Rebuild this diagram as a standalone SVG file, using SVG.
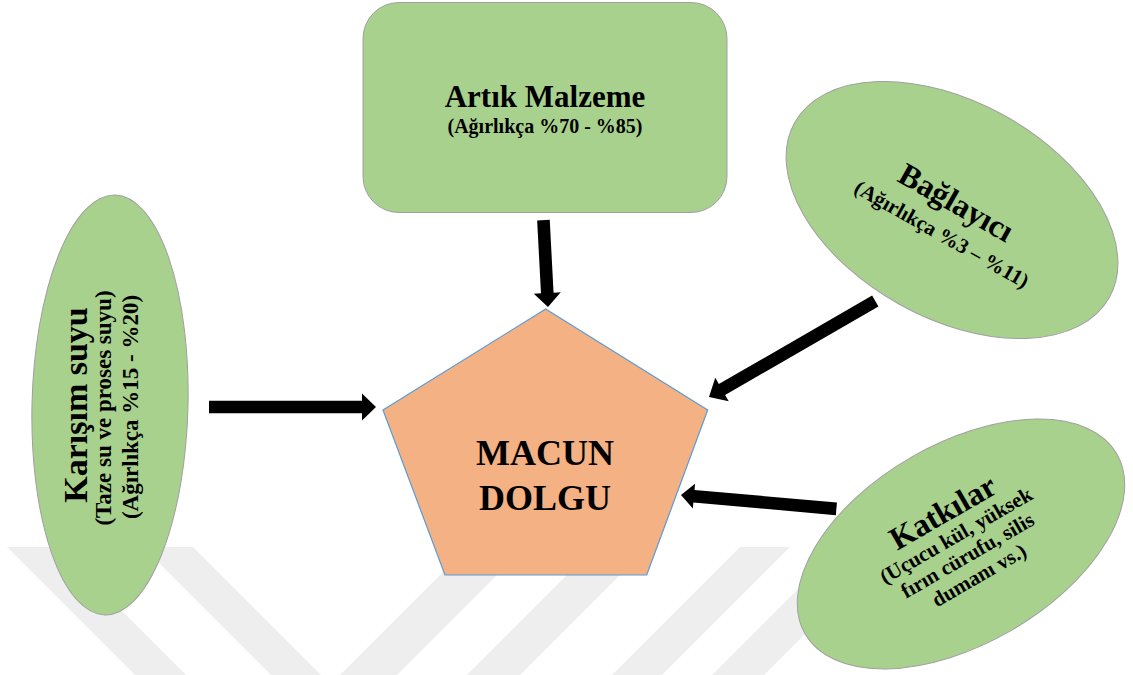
<svg xmlns="http://www.w3.org/2000/svg" width="1133" height="675" viewBox="0 0 1133 675">
<style>
.wm{fill:#EEEEEE}
.node{fill:#A9D18E;stroke:#A0A0A0;stroke-width:1}
.pent{fill:#F4B183;stroke:#5B9BD5;stroke-width:1.2}
.t{font-family:"Liberation Serif","Times New Roman",serif;font-weight:bold;fill:#000;text-anchor:middle}
.arrow{fill:#000}
</style>
<rect width="1133" height="675" fill="#FFFFFF"/>
<g id="watermark">
<polygon class="wm" points="7,547 58,547 186,675 135,675"/>
<polygon class="wm" points="143,547 193,547 321,675 271,675"/>
<polygon class="wm" points="468,547 525,547 397,675 340,675"/>
<polygon class="wm" points="595,547 648,547 520,675 467,675"/>
<polygon class="wm" points="740,547 790,547 662,675 612,675"/>
<polygon class="wm" points="840,547 892,547 764,675 712,675"/>
</g>
<g id="connectors">
<path class="arrow" transform="translate(376,407) rotate(0)" d="M0,0 L-14,-13.5 L-14,-6.3 L-167,-6.3 L-167,6.3 L-14,6.3 L-14,13.5 Z"/>
<path class="arrow" transform="translate(548,307) rotate(87)" d="M0,0 L-14,-13.5 L-14,-6.3 L-87,-6.3 L-87,6.3 L-14,6.3 L-14,13.5 Z"/>
<path class="arrow" transform="translate(709,397) rotate(150)" d="M0,0 L-15,-13.5 L-15,-6.3 L-192,-6.3 L-192,6.3 L-15,6.3 L-15,13.5 Z"/>
<path class="arrow" transform="translate(681,495) rotate(185.1)" d="M0,0 L-13,-12.5 L-13,-6.3 L-156,-6.3 L-156,6.3 L-13,6.3 L-13,12.5 Z"/>
</g>
<g id="artik-malzeme">
<rect class="node" x="363" y="2.5" width="364" height="210" rx="36" ry="36"/>
<text class="t" x="545" y="107" font-size="31">Artık Malzeme</text>
<text class="t" x="545" y="133" font-size="20">(Ağırlıkça %70 - %85)</text>
</g>
<g id="baglayici">
<ellipse class="node" cx="952" cy="210" rx="180" ry="108" transform="rotate(29 952 210)"/>
<g transform="translate(952,210) rotate(29.5)">
<text class="t" x="0" y="2" font-size="32">Bağlayıcı</text>
<text class="t" x="3" y="33" font-size="21">(Ağırlıkça %3 – %11)</text>
</g>
</g>
<g id="karisim-suyu">
<ellipse class="node" cx="110" cy="405" rx="78" ry="210" transform="rotate(1.4 110 405)"/>
<g transform="translate(110,405) rotate(-90)">
<text class="t" x="0" y="-23" font-size="34">Karışım suyu</text>
<text class="t" x="-3" y="1" font-size="23">(Taze su ve proses suyu)</text>
<text class="t" x="-2" y="28" font-size="23">(Ağırlıkça %15 - %20)</text>
</g>
</g>
<g id="katkilar">
<ellipse class="node" cx="961" cy="544" rx="180" ry="100" transform="rotate(-30 961 544)"/>
<g transform="translate(961,544) rotate(-30)">
<text class="t" x="0" y="-26" font-size="32">Katkılar</text>
<text class="t" x="0" y="-3" font-size="21">(Uçucu kül, yüksek</text>
<text class="t" x="0" y="20" font-size="21">fırın cürufu, silis</text>
<text class="t" x="0" y="43" font-size="21">dumanı vs.)</text>
</g>
</g>
<g id="macun-dolgu">
<polygon class="pent" points="545.7,309 707.7,410 646.7,575 445,575 383,410"/>
<text class="t" x="545" y="465" font-size="36">MACUN</text>
<text class="t" x="545" y="510" font-size="36">DOLGU</text>
</g>
</svg>
